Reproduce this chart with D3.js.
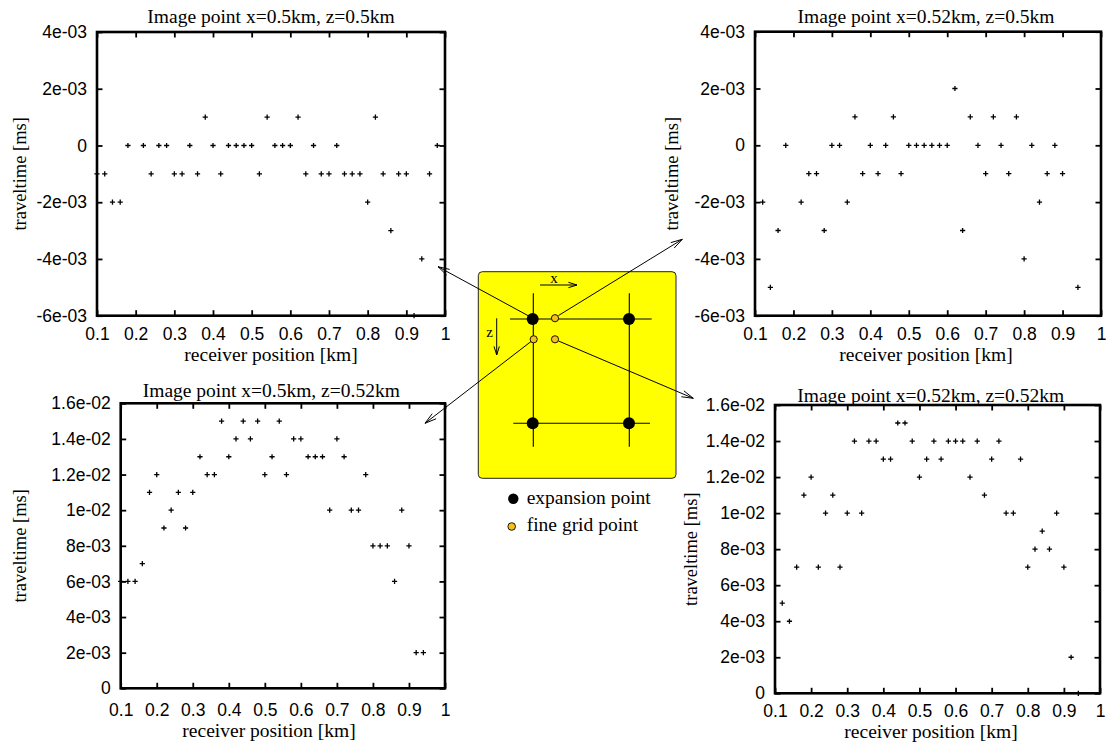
<!DOCTYPE html>
<html><head><meta charset="utf-8">
<script src="https://cdn.jsdelivr.net/npm/d3@7"></script>
<style>body{margin:0;background:#fff} svg{display:block}</style>
</head><body>
<svg id="c" width="1108" height="742"></svg>
<script>
// ---------- data ----------
const receivers1 = [0.10,0.12,0.14,0.16,0.18,0.22,0.24,0.26,0.28,0.30,0.32,0.34,0.36,0.38,0.40,0.42,0.44,0.46,0.48,0.50,0.52,0.54,0.56,0.58,0.60,0.62,0.64,0.66,0.68,0.70,0.72,0.74,0.76,0.78,0.80,0.82,0.84,0.86,0.88,0.90,0.92,0.94,0.96,0.98];
const traveltime1 = [-1e-3,-1e-3,-2e-3,-2e-3,0,0,-1e-3,0,0,-1e-3,-1e-3,0,-1e-3,1e-3,0,-1e-3,0,0,0,0,-1e-3,1e-3,0,0,0,1e-3,-1e-3,0,-1e-3,-1e-3,0,-1e-3,-1e-3,-1e-3,-2e-3,1e-3,-1e-3,-3e-3,-1e-3,-1e-3,-6e-3,-4e-3,-1e-3,0];

const receivers2 = [0.12,0.14,0.16,0.18,0.22,0.24,0.26,0.28,0.30,0.32,0.34,0.36,0.38,0.40,0.42,0.44,0.46,0.48,0.50,0.52,0.54,0.56,0.58,0.60,0.62,0.64,0.66,0.68,0.70,0.72,0.74,0.76,0.78,0.80,0.82,0.84,0.86,0.88,0.90,0.94];
const traveltime2 = [-2e-3,-5e-3,-3e-3,0,-2e-3,-1e-3,-1e-3,-3e-3,0,0,-2e-3,1e-3,-1e-3,0,-1e-3,0,1e-3,-1e-3,0,0,0,0,0,0,2e-3,-3e-3,1e-3,0,-1e-3,1e-3,0,-1e-3,1e-3,-4e-3,0,-2e-3,-1e-3,0,-1e-3,-5e-3];

const receivers3 = [0.10,0.12,0.14,0.16,0.18,0.20,0.22,0.24,0.26,0.28,0.30,0.32,0.34,0.36,0.38,0.40,0.42,0.44,0.46,0.48,0.50,0.52,0.54,0.56,0.58,0.60,0.62,0.64,0.66,0.68,0.70,0.72,0.74,0.76,0.78,0.80,0.82,0.84,0.86,0.88,0.90,0.92,0.94];
const traveltime3 = [6e-3,6e-3,6e-3,7e-3,11e-3,12e-3,9e-3,10e-3,11e-3,9e-3,11e-3,13e-3,12e-3,12e-3,15e-3,13e-3,14e-3,15e-3,14e-3,15e-3,12e-3,13e-3,15e-3,12e-3,14e-3,14e-3,13e-3,13e-3,13e-3,10e-3,14e-3,13e-3,10e-3,10e-3,12e-3,8e-3,8e-3,8e-3,6e-3,10e-3,8e-3,2e-3,2e-3];

const receivers4 = [0.12,0.14,0.16,0.18,0.20,0.22,0.24,0.26,0.28,0.30,0.32,0.34,0.36,0.38,0.40,0.42,0.44,0.46,0.48,0.50,0.52,0.54,0.56,0.58,0.60,0.62,0.64,0.66,0.68,0.70,0.72,0.74,0.76,0.78,0.80,0.82,0.84,0.86,0.88,0.90,0.92,0.94];
const traveltime4 = [5e-3,4e-3,7e-3,11e-3,12e-3,7e-3,10e-3,11e-3,7e-3,10e-3,14e-3,10e-3,14e-3,14e-3,13e-3,13e-3,15e-3,15e-3,14e-3,12e-3,13e-3,14e-3,13e-3,14e-3,14e-3,14e-3,12e-3,14e-3,11e-3,13e-3,14e-3,10e-3,10e-3,13e-3,7e-3,8e-3,9e-3,8e-3,10e-3,7e-3,2e-3,0];

const xTicks = [0.1,0.2,0.3,0.4,0.5,0.6,0.7,0.8,0.9,1.0];
const xTickLabels = ["0.1","0.2","0.3","0.4","0.5","0.6","0.7","0.8","0.9","1"];
const yTicksTop = [4e-3,2e-3,0,-2e-3,-4e-3,-6e-3];
const yTickLabelsTop = ["4e-03","2e-03","0","-2e-03","-4e-03","-6e-03"];
const yTicksBottom = [1.6e-2,1.4e-2,1.2e-2,1e-2,8e-3,6e-3,4e-3,2e-3,0];
const yTickLabelsBottom = ["1.6e-02","1.4e-02","1.2e-02","1e-02","8e-03","6e-03","4e-03","2e-03","0"];
const titles = ["Image point x=0.5km, z=0.5km","Image point x=0.52km, z=0.5km","Image point x=0.5km, z=0.52km","Image point x=0.52km, z=0.52km"];
const xLabel = "receiver position [km]";
const yLabel = "traveltime [ms]";
const legendLabels = ["expansion point","fine grid point"];

// ---------- layout ----------
const SANS = "'Liberation Sans', Arial, Helvetica, sans-serif";
const SERIF = "'Liberation Serif', 'Times New Roman', Times, serif";
const svg = d3.select("#c");

const panels = [
  {rx:receivers1, ty:traveltime1, yt:yTicksTop, yl:yTickLabelsTop, dom:[-6e-3,4e-3], title:titles[0],
   L:97, R:445, T:32, B:315.7, titleX:271, titleY:23, ylabX:26, xlabX:271, xlabY:360.5, xpad:12},
  {rx:receivers2, ty:traveltime2, yt:yTicksTop, yl:yTickLabelsTop, dom:[-6e-3,4e-3], title:titles[1],
   L:755, R:1101, T:31.7, B:315.7, titleX:926, titleY:23, ylabX:678, xlabX:926, xlabY:360.5, xpad:12},
  {rx:receivers3, ty:traveltime3, yt:yTicksBottom, yl:yTickLabelsBottom, dom:[0,1.6e-2], title:titles[2],
   L:120.7, R:445, T:403.3, B:688.3, titleX:271.3, titleY:396.5, ylabX:26, xlabX:269, xlabY:737, xpad:15},
  {rx:receivers4, ty:traveltime4, yt:yTicksBottom, yl:yTickLabelsBottom, dom:[0,1.6e-2], title:titles[3],
   L:775, R:1100, T:405, B:693.3, titleX:930.7, titleY:402, ylabX:697, xlabX:931, xlabY:737.5, xpad:11.5}
];

panels.forEach(p => {
  const x = d3.scaleLinear().domain([0.1,1.0]).range([p.L,p.R]);
  const y = d3.scaleLinear().domain(p.dom).range([p.B,p.T]);
  const g = svg.append("g");

  // points
  const pts = g.append("g");
  p.rx.forEach((rv,i) => {
    const cx = x(rv), cy = y(p.ty[i]);
    pts.append("path").attr("d",`M${cx-2.6},${cy}H${cx+2.6}M${cx},${cy-2.6}V${cy+2.6}`)
      .attr("stroke","#000").attr("stroke-width",1.3).attr("fill","none");
  });

  // axes (ticks inward)
  const styleAxis = sel => {
    sel.select(".domain").remove();
    sel.selectAll(".tick line").attr("stroke","#000").attr("stroke-width",1.8);
    sel.selectAll(".tick text").attr("font-family",SANS).attr("font-size",17.5).attr("fill","#000");
  };
  g.append("g").attr("transform",`translate(0,${p.B})`)
    .call(d3.axisBottom(x).tickValues(xTicks).tickFormat((d,i)=>xTickLabels[i]).tickSize(-5.5).tickPadding(p.xpad))
    .call(styleAxis);
  g.append("g").attr("transform",`translate(0,${p.T})`)
    .call(d3.axisTop(x).tickValues(xTicks).tickFormat("").tickSize(-5.5))
    .call(styleAxis);
  g.append("g").attr("transform",`translate(${p.L},0)`)
    .call(d3.axisLeft(y).tickValues(p.yt).tickFormat((d,i)=>p.yl[i]).tickSize(-5.5).tickPadding(10))
    .call(styleAxis);
  g.append("g").attr("transform",`translate(${p.R},0)`)
    .call(d3.axisRight(y).tickValues(p.yt).tickFormat("").tickSize(-5.5))
    .call(styleAxis);

  // frame
  g.append("rect").attr("x",p.L).attr("y",p.T).attr("width",p.R-p.L).attr("height",p.B-p.T)
    .attr("fill","none").attr("stroke","#000").attr("stroke-width",2.6);

  // texts
  g.append("text").attr("x",p.titleX).attr("y",p.titleY).attr("text-anchor","middle")
    .attr("font-family",SERIF).attr("font-size",19.5).text(p.title);
  g.append("text").attr("x",p.xlabX).attr("y",p.xlabY).attr("text-anchor","middle")
    .attr("font-family",SERIF).attr("font-size",19.5).text(xLabel);
  g.append("text").attr("transform",`translate(${p.ylabX},${(p.T+p.B)/2}) rotate(-90)`)
    .attr("text-anchor","middle").attr("font-family",SERIF).attr("font-size",18.5).text(yLabel);
});

// ---------- centre diagram ----------
const d = svg.append("g");
d.append("rect").attr("x",478.3).attr("y",271.7).attr("width",197.7).attr("height",206.6)
  .attr("rx",4).attr("fill","#ffff00").attr("stroke","#222").attr("stroke-width",1);

const ln = (x1,y1,x2,y2,w=1.1) => d.append("line").attr("x1",x1).attr("y1",y1).attr("x2",x2).attr("y2",y2)
  .attr("stroke","#000").attr("stroke-width",w);
ln(510,319,651.7,319);
ln(513.3,423.3,650,423.3);
ln(533.3,293.3,533.3,446.7);
ln(629.3,293.3,629.3,446.7);

function arrow(x1,y1,x2,y2,head=12,ang=0.27){
  const a = Math.atan2(y2-y1,x2-x1);
  ln(x1,y1,x2,y2,1);
  const p1 = [x2-head*Math.cos(a-ang), y2-head*Math.sin(a-ang)];
  const p2 = [x2-head*Math.cos(a+ang), y2-head*Math.sin(a+ang)];
  d.append("path").attr("d",`M${p1[0]},${p1[1]}L${x2},${y2}L${p2[0]},${p2[1]}`)
    .attr("fill","none").attr("stroke","#000").attr("stroke-width",1);
}
// x / z direction arrows
arrow(540,285,577,285,9,0.3);
arrow(496.7,318.3,496.7,355,9,0.3);
d.append("text").attr("x",554).attr("y",282.5).attr("text-anchor","middle")
  .attr("font-family",SERIF).attr("font-size",15).text("x");
d.append("text").attr("x",489.5).attr("y",337).attr("text-anchor","middle")
  .attr("font-family",SERIF).attr("font-size",15).text("z");

// arrows to panels
arrow(530,316.7,438,266.7);
arrow(558.5,315.5,682.3,239.3);
arrow(531,341.5,425,423.3);
arrow(558.5,341,693.3,398.3);

// expansion points
[[532.7,319],[629,319],[532.7,423.3],[629,423.3]].forEach(c =>
  d.append("circle").attr("cx",c[0]).attr("cy",c[1]).attr("r",6).attr("fill","#000"));
// fine grid points
[[555,318.2],[533.7,339.3],[555,339.3]].forEach(c =>
  d.append("circle").attr("cx",c[0]).attr("cy",c[1]).attr("r",3.6).attr("fill","#f7c11c").attr("stroke","#000").attr("stroke-width",0.9));

// legend
d.append("circle").attr("cx",513.3).attr("cy",498.7).attr("r",5.2).attr("fill","#000");
d.append("circle").attr("cx",511.7).attr("cy",526.5).attr("r",3.8).attr("fill","#f7c11c").attr("stroke","#000").attr("stroke-width",0.9);
d.append("text").attr("x",526.7).attr("y",503.5).attr("font-family",SERIF).attr("font-size",19.5).text(legendLabels[0]);
d.append("text").attr("x",526.7).attr("y",531).attr("font-family",SERIF).attr("font-size",19.5).text(legendLabels[1]);
</script>
</body></html>
